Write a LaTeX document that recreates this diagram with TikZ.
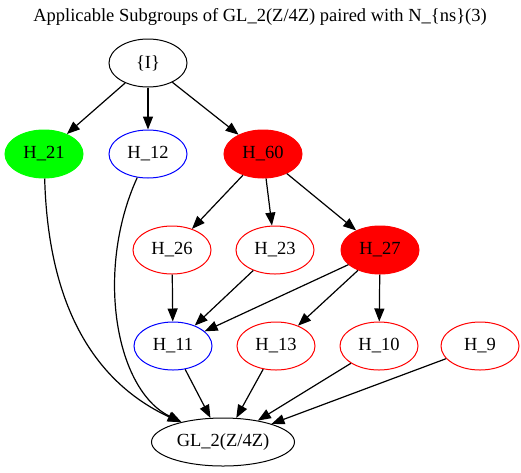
\documentclass[tikz,border=0pt]{standalone}
\usepackage{fontspec}
\setmainfont{Liberation Serif}
\usetikzlibrary{arrows.meta,shapes.geometric}
\tikzset{
  grp/.style={ellipse,draw,line width=1pt,minimum width=78pt,minimum height=48pt,inner sep=0pt},
  edge/.style={line width=1.2pt,-{Triangle[length=13pt,width=10pt]}}
}
\begin{document}
\begin{tikzpicture}[x=1pt,y=-1pt,font=\fontsize{18.5}{22}\selectfont]
            \useasboundingbox (0,0) rectangle (521,472);
            \node (title) at (260,17) {Applicable Subgroups of GL\_2(Z/4Z) paired with N\_\{ns\}(3)};
            \node[grp] (id) at (148,63) {\{I\}};
            \node[grp,draw=green,fill=green] (h21) at (44,154) {H\_21};
            \node[grp,draw=blue] (h12) at (148,154) {H\_12};
            \node[grp,draw=red,fill=red] (h60) at (263,154) {H\_60};
            \node[grp,draw=red] (h26) at (172,250) {H\_26};
            \node[grp,draw=red] (h23) at (275,250) {H\_23};
            \node[grp,draw=red,fill=red] (h27) at (380,250) {H\_27};
            \node[grp,draw=blue] (h11) at (173,346) {H\_11};
            \node[grp,draw=red] (h13) at (276,346) {H\_13};
            \node[grp,draw=red] (h10) at (379,346) {H\_10};
            \node[grp,draw=red] (h9) at (480,346) {H\_9};
            \node[grp,minimum width=143pt] (gl) at (223,442) {GL\_2(Z/4Z)};
            \draw[edge] (id) -- (h21);
            \draw[edge] (id) -- (h12);
            \draw[edge] (id) -- (h60);
            \draw[edge] (h60) -- (h26);
            \draw[edge] (h60) -- (h23);
            \draw[edge] (h60) -- (h27);
            \draw[edge] (h26) -- (h11);
            \draw[edge] (h23) -- (h11);
            \draw[edge] (h27) -- (h11);
            \draw[edge] (h27) -- (h13);
            \draw[edge] (h27) -- (h10);
            \draw[edge] (h21) .. controls (48,300) and (90,380) .. (gl);
            \draw[edge] (h12) .. controls (95,270) and (115,390) .. (gl);
            \draw[edge] (h11) -- (gl);
            \draw[edge] (h13) -- (gl);
            \draw[edge] (h10) -- (gl);
            \draw[edge] (h9) -- (gl);
        \end{tikzpicture}
\end{document}
